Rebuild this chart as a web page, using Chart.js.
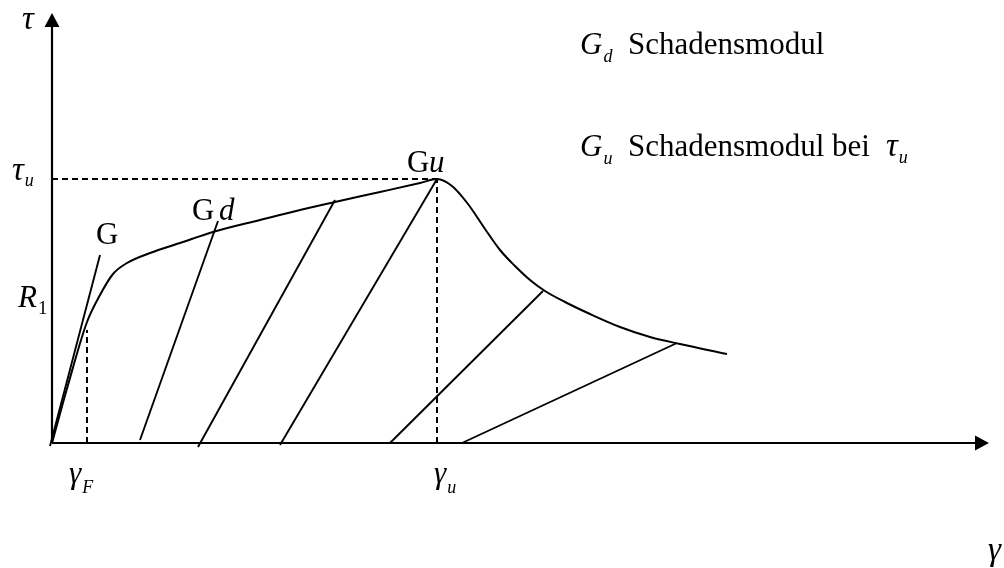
<!DOCTYPE html>
<html>
<head>
<meta charset="utf-8">
<script src="https://cdn.jsdelivr.net/npm/chart.js@4"></script>
<style>
  html, body { margin: 0; padding: 0; background: #fff; }
  #wrap { width: 1004px; height: 568px; }
</style>
</head>
<body>
<div id="wrap"><canvas id="c" width="1004" height="568"></canvas></div>
<script>
// Shear stress–strain path τ(γ) with damage-modulus unloading branches
const curveGamma = [0, 1.6, 3.5, 4.8, 6.1, 7.5, 9.8, 12.8, 16.1, 20.8, 24.8, 28.3, 32.8, 36.8, 38.5, 40.0, 41.6, 43.3, 44.8, 46.3, 47.8, 49.3, 51.3, 53.8, 56.8, 59.8, 62.8, 67.5];
const curveTau   = [0, 5.8, 12.1, 14.8, 16.9, 18.0, 19.0, 20.0, 21.1, 22.3, 23.3, 24.1, 25.1, 26.0, 26.4, 25.7, 23.9, 21.4, 19.3, 17.7, 16.3, 15.2, 14.1, 12.9, 11.6, 10.6, 9.9, 8.9];

// Straight branches: initial modulus G, then unloading lines (damage moduli)
const branchGammaStart = [-0.2, 8.8, 14.6, 22.8, 33.8, 41.0];
const branchTauStart   = [-0.3, 0.3, -0.4, -0.2, 0.0, 0.0];
const branchGammaEnd   = [4.8, 16.6, 28.3, 38.5, 49.1, 62.5];
const branchTauEnd     = [18.8, 22.2, 24.3, 26.4, 15.2, 10.0];

// Characteristic values
const gammaF = 3.5, tauR1 = 11.3;
const gammaU = 38.5, tauU = 26.4;

// Axis extents
const gammaMax = 93.7, tauMax = 43.0;

const curvePoints = curveGamma.map((g, i) => ({ x: g, y: curveTau[i] }));
const branchSets = branchGammaStart.map((g, i) => ({
  data: [{ x: g, y: branchTauStart[i] }, { x: branchGammaEnd[i], y: branchTauEnd[i] }],
  borderColor: '#000', borderWidth: 1.9, pointRadius: 0, showLine: true, clip: false
}));

const dashStyle = { borderColor: '#000', borderWidth: 2, borderDash: [6, 4], pointRadius: 0, showLine: true, clip: false };

const SERIF = '"Liberation Serif", "DejaVu Serif", serif';

function sub(ctx, main, subTxt, x, y, mainFont, subFont, dy) {
  ctx.font = mainFont;
  ctx.fillText(main, x, y);
  const w = ctx.measureText(main).width;
  ctx.font = subFont;
  ctx.fillText(subTxt, x + w + 1, y + dy);
}

const annotate = {
  id: 'annotate',
  afterDatasetsDraw(chart) {
    const { ctx, scales: { x, y } } = chart;
    const x0 = x.getPixelForValue(0), y0 = y.getPixelForValue(0);
    const xEnd = x.getPixelForValue(gammaMax), yEnd = y.getPixelForValue(tauMax);
    ctx.save();
    ctx.fillStyle = '#000';
    // arrow heads
    ctx.beginPath();
    ctx.moveTo(x0, yEnd); ctx.lineTo(x0 - 7.5, yEnd + 14); ctx.lineTo(x0 + 7.5, yEnd + 14); ctx.closePath(); ctx.fill();
    ctx.beginPath();
    ctx.moveTo(xEnd, y0); ctx.lineTo(xEnd - 14, y0 - 7.5); ctx.lineTo(xEnd - 14, y0 + 7.5); ctx.closePath(); ctx.fill();

    ctx.textBaseline = 'alphabetic';
    ctx.textAlign = 'left';
    const it31 = 'italic 31px ' + SERIF, rm31 = '31px ' + SERIF;
    const itTau = 'italic 33px ' + SERIF;
    const itSub = 'italic 18px ' + SERIF, rmSub = '19px ' + SERIF;

    // axis titles
    ctx.font = itTau;
    ctx.fillText('τ', x0 - 30, yEnd + 16);
    ctx.fillText('γ', xEnd - 1, 560);

    // characteristic values along the axes
    sub(ctx, 'τ', 'u', x0 - 40, y.getPixelForValue(tauU) + 1, itTau, itSub, 6);
    sub(ctx, 'R', '1', x0 - 34, y.getPixelForValue(tauR1) - 23, it31, rmSub, 7);
    sub(ctx, 'γ', 'F', x.getPixelForValue(gammaF) - 18, y0 + 40, it31, itSub, 10);
    sub(ctx, 'γ', 'u', x.getPixelForValue(gammaU) - 3, y0 + 40, it31, itSub, 10);

    // branch labels
    ctx.font = rm31;
    ctx.fillText('G', x.getPixelForValue(branchGammaEnd[0]) - 4, y.getPixelForValue(branchTauEnd[0]) - 11);
    ctx.fillText('G', x.getPixelForValue(branchGammaEnd[1]) - 26, y.getPixelForValue(branchTauEnd[1]) - 1);
    ctx.font = it31;
    ctx.fillText('d', x.getPixelForValue(branchGammaEnd[1]) + 1, y.getPixelForValue(branchTauEnd[1]) - 1);
    ctx.font = rm31;
    ctx.fillText('G', x.getPixelForValue(gammaU) - 30, y.getPixelForValue(tauU) - 7);
    ctx.font = it31;
    ctx.fillText('u', x.getPixelForValue(gammaU) - 8, y.getPixelForValue(tauU) - 7);

    // legend text
    sub(ctx, 'G', 'd', 580, 54, it31, itSub, 8);
    ctx.font = rm31;
    ctx.fillText('Schadensmodul', 628, 54);
    sub(ctx, 'G', 'u', 580, 156, it31, itSub, 8);
    ctx.font = rm31;
    ctx.fillText('Schadensmodul bei', 628, 156);
    sub(ctx, 'τ', 'u', 886, 156, itTau, itSub, 7);
    ctx.restore();
  }
};

new Chart(document.getElementById('c'), {
  type: 'scatter',
  data: {
    datasets: [
      // axes
      { data: [{ x: 0, y: 0 }, { x: gammaMax - 1.2, y: 0 }], borderColor: '#000', borderWidth: 2.2, pointRadius: 0, showLine: true, clip: false },
      { data: [{ x: 0, y: 0 }, { x: 0, y: tauMax - 1.2 }], borderColor: '#000', borderWidth: 2.2, pointRadius: 0, showLine: true, clip: false },
      // stress–strain curve
      { data: curvePoints, borderColor: '#000', borderWidth: 2, pointRadius: 0, showLine: true, cubicInterpolationMode: 'monotone', clip: false },
      ...branchSets,
      // reference lines
      Object.assign({ data: [{ x: gammaF, y: 0 }, { x: gammaF, y: tauR1 }] }, dashStyle),
      Object.assign({ data: [{ x: 0, y: tauU }, { x: gammaU, y: tauU }] }, dashStyle),
      Object.assign({ data: [{ x: gammaU, y: 0 }, { x: gammaU, y: tauU }] }, dashStyle)
    ]
  },
  options: {
    responsive: false,
    animation: false,
    devicePixelRatio: 1,
    layout: { padding: { left: 52, right: 15, top: 13, bottom: 125 } },
    plugins: { legend: { display: false }, tooltip: { enabled: false } },
    scales: {
      x: { type: 'linear', min: 0, max: gammaMax, display: false },
      y: { type: 'linear', min: 0, max: tauMax, display: false }
    }
  },
  plugins: [annotate]
});
</script>
</body>
</html>
